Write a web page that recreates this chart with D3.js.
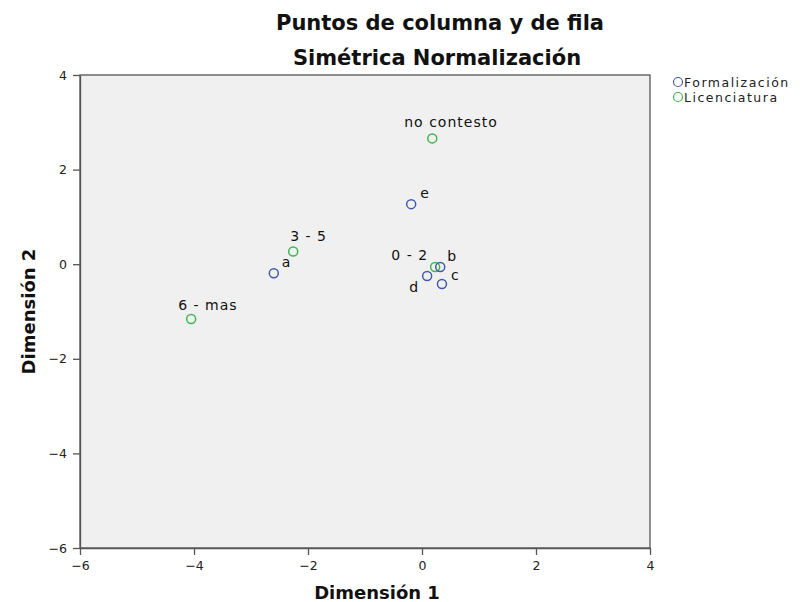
<!DOCTYPE html>
<html><head><meta charset="utf-8">
<script src="https://cdn.jsdelivr.net/npm/d3@7/dist/d3.min.js"></script>
<style>body{margin:0;background:#fff;}svg{display:block;}</style>
</head><body>
<svg id="c" width="804" height="602"></svg>
<script>
const title1 = "Puntos de columna y de fila";
const title2 = "Simétrica Normalización";
const xTitle = "Dimensión 1";
const yTitle = "Dimensión 2";
const xTicks = [-6, -4, -2, 0, 2, 4];
const yTicks = [-6, -4, -2, 0, 2, 4];
const seriesNames = ["Formalización", "Licenciatura"];
const seriesColors = ["#4459a8", "#3fb64f"];

const formLabels = ["a", "b", "c", "d", "e"];
const formX = [-2.60, 0.32, 0.35, 0.09, -0.19];
const formY = [-0.19, -0.06, -0.42, -0.25, 1.27];

const licLabels = ["0 - 2", "3 - 5", "6 - mas", "no contesto"];
const licX = [0.23, -2.26, -4.05, 0.18];
const licY = [-0.06, 0.27, -1.16, 2.66];

// label placement relative to its point (style only): [dx, dy, anchor]
const labelPlace = {
  "a": [8, -6, "start"], "b": [7, -6, "start"], "c": [9, -4, "start"],
  "d": [-8, 16, "end"], "e": [9, -6, "start"],
  "0 - 2": [-7, -7, "end"], "3 - 5": [-3, -10, "start"],
  "6 - mas": [-13, -9, "start"], "no contesto": [-28, -11, "start"]
};

const svg = d3.select("#c");
const L = 80, R = 650, T = 75, B = 548;
const x = d3.scaleLinear().domain([-6, 4]).range([L, R]);
const y = d3.scaleLinear().domain([-6, 4]).range([B, T]);

svg.append("rect").attr("x", L).attr("y", T).attr("width", R - L).attr("height", B - T)
  .attr("fill", "#f0f0f0").attr("stroke", "#555").attr("stroke-width", 1.3);

const font = "'DejaVu Sans', 'Open Sans', sans-serif";
const fmt = d => d3.format("d")(d).replace("-", "−");
const xa = svg.append("g").attr("transform", `translate(0,${B})`)
  .call(d3.axisBottom(x).tickValues(xTicks).tickSize(7).tickPadding(6).tickSizeOuter(0).tickFormat(fmt));
const ya = svg.append("g").attr("transform", `translate(${L},0)`)
  .call(d3.axisLeft(y).tickValues(yTicks).tickSize(7).tickPadding(6).tickSizeOuter(0).tickFormat(fmt));
[xa, ya].forEach(g => {
  g.select(".domain").attr("stroke", "#555").attr("stroke-width", 1.3);
  g.selectAll(".tick line").attr("stroke", "#555").attr("stroke-width", 1.3);
  g.selectAll(".tick text").attr("font-family", font).attr("font-size", 12.5).attr("fill", "#222");
});

function bold(xp, yp, txt, size) {
  return svg.append("text").attr("x", xp).attr("y", yp).attr("text-anchor", "middle")
    .attr("font-family", font).attr("font-weight", "bold").attr("font-size", size).attr("fill", "#111").text(txt);
}
bold(440, 30, title1, 21);
bold(437, 65, title2, 21);
bold(377, 599, xTitle, 18);
svg.append("text").attr("transform", `translate(35,${(T + B) / 2}) rotate(-90)`).attr("text-anchor", "middle")
  .attr("font-family", font).attr("font-weight", "bold").attr("font-size", 18).attr("fill", "#111").text(yTitle);

function drawSeries(labels, xs, ys, color) {
  const data = labels.map((l, i) => ({l, x: xs[i], y: ys[i]}));
  const g = svg.append("g");
  g.selectAll("circle").data(data).enter().append("circle")
    .attr("cx", d => x(d.x)).attr("cy", d => y(d.y)).attr("r", 4.5)
    .attr("fill", "none").attr("stroke", color).attr("stroke-width", 1.5);
  g.selectAll("text").data(data).enter().append("text")
    .attr("x", d => x(d.x) + labelPlace[d.l][0]).attr("y", d => y(d.y) + labelPlace[d.l][1])
    .attr("text-anchor", d => labelPlace[d.l][2])
    .attr("font-family", font).attr("font-size", 14).attr("letter-spacing", 1)
    .attr("fill", "#111").text(d => d.l);
}
drawSeries(licLabels, licX, licY, seriesColors[1]);
drawSeries(formLabels, formX, formY, seriesColors[0]);

const lg = svg.append("g");
seriesNames.forEach((n, i) => {
  lg.append("circle").attr("cx", 678).attr("cy", 82 + i * 15).attr("r", 4.5)
    .attr("fill", "none").attr("stroke", seriesColors[i]).attr("stroke-width", 1.2);
  lg.append("text").attr("x", 684).attr("y", 86.5 + i * 15)
    .attr("font-family", font).attr("font-size", 12.5).attr("letter-spacing", 1.5)
    .attr("fill", "#222").text(n);
});
</script>
</body></html>
